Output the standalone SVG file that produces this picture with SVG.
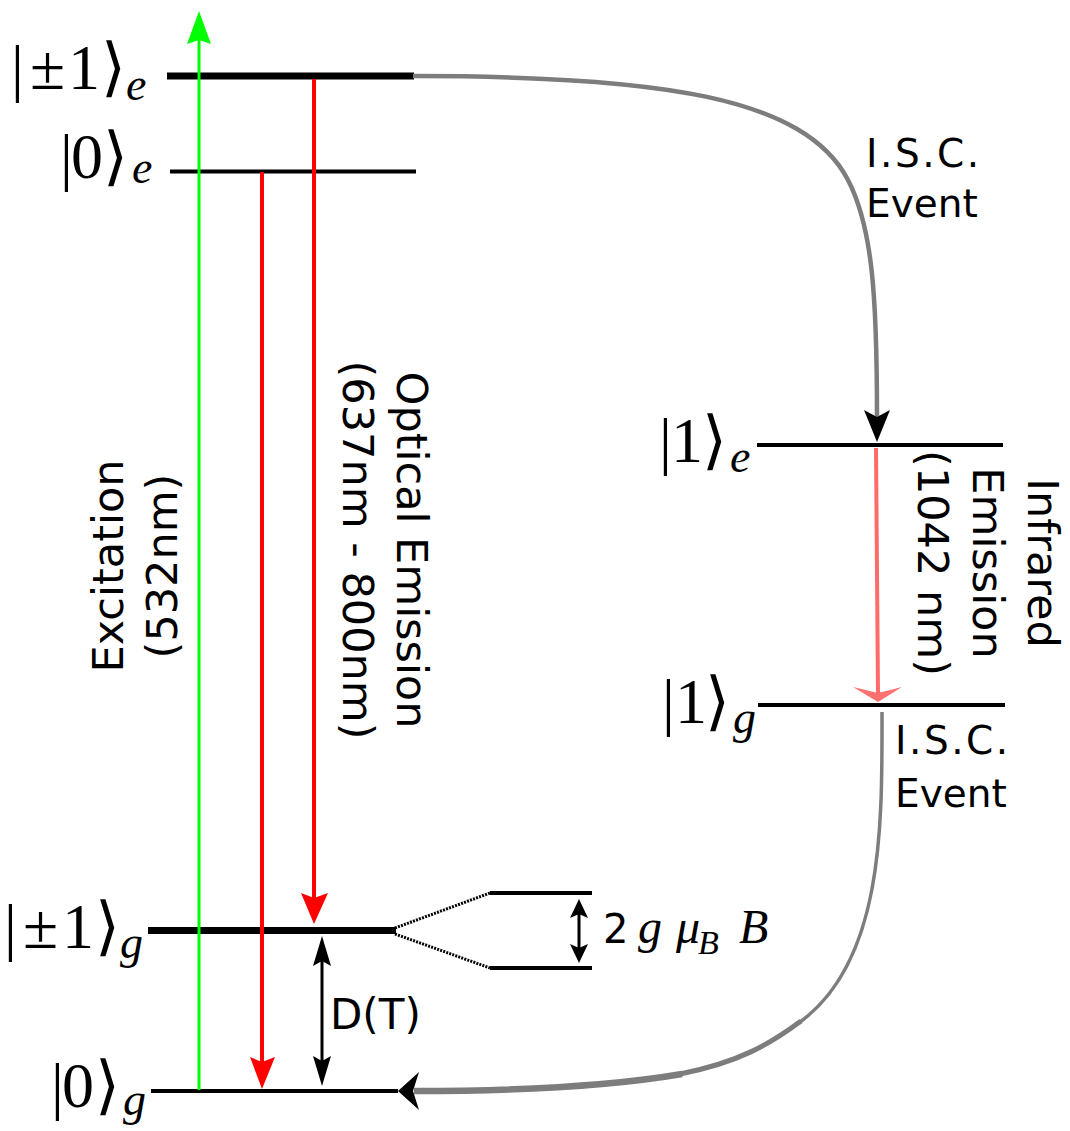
<svg xmlns="http://www.w3.org/2000/svg" width="1070" height="1131" viewBox="0 0 1070 1131">
<style>
.lvl{stroke:#000;stroke-width:4;fill:none}
.thick{stroke:#000;stroke-width:7;fill:none}
.ket{font-family:"Liberation Serif","DejaVu Sans",serif;font-size:64px;fill:#000}
.sub{font-family:"Liberation Serif","DejaVu Serif",serif;font-style:italic;font-size:46px;fill:#000}
.lbl{font-family:"DejaVu Sans","Liberation Sans",sans-serif;font-size:43px;fill:#000}
.isc{font-family:"DejaVu Sans","Liberation Sans",sans-serif;font-size:39px;fill:#000}
.red{stroke:#ff0000;stroke-width:4;fill:none}
.blk{stroke:#000;stroke-width:3;fill:none}
.gray{stroke:#7d7d7d;fill:none}
</style>
<rect width="1070" height="1131" fill="#fff"/>

<g id="level-pm1e">
<line class="thick" x1="167" y1="76" x2="414" y2="76"/>
<text class="ket" x="11 30 68 101" y="89">|±1⟩</text>
<text class="sub" x="126" y="100">e</text>
</g>
<g id="level-0e">
<line class="lvl" x1="170" y1="171.5" x2="416" y2="171.5"/>
<text class="ket" x="60 71 103" y="178">|0⟩</text>
<text class="sub" x="132" y="183">e</text>
</g>
<g id="level-1e">
<line class="lvl" x1="757" y1="445" x2="1003" y2="445"/>
<text class="ket" x="659 671 702" y="462">|1⟩</text>
<text class="sub" x="730" y="472">e</text>
</g>
<g id="level-1g">
<line class="lvl" x1="758" y1="705" x2="1005" y2="705"/>
<text class="ket" x="662 675 705" y="723">|1⟩</text>
<text class="sub" x="733" y="733">g</text>
</g>
<g id="level-pm1g">
<line class="thick" x1="148" y1="930.5" x2="396" y2="930.5"/>
<text class="ket" x="4 23 62 95" y="948">|±1⟩</text>
<text class="sub" x="120" y="958">g</text>
</g>
<g id="level-0g">
<line class="lvl" x1="151" y1="1091" x2="398" y2="1091"/>
<text class="ket" x="51 62 95" y="1107">|0⟩</text>
<text class="sub" x="123" y="1115">g</text>
</g>
<g id="zeeman-split">
<line class="lvl" x1="490" y1="893" x2="592" y2="893"/>
<line class="lvl" x1="490" y1="968" x2="592" y2="968"/>
<text x="603" y="943" font-family="DejaVu Sans, sans-serif" font-size="40">2</text>
<text class="sub" x="638" y="943" style="font-size:48px">g</text>
<text class="sub" x="676" y="943" style="font-size:48px">μ</text>
<text class="sub" x="698" y="954" style="font-size:34px">B</text>
<text class="sub" x="739" y="943" style="font-size:48px">B</text>
</g>

<g id="labels">
<text class="lbl" transform="translate(123,566) rotate(-90)" text-anchor="middle">Excitation<tspan x="0" dy="54">(532nm)</tspan></text>
<text class="lbl" transform="translate(397,550) rotate(90)" text-anchor="middle">Optical Emission<tspan x="0" dy="54">(637nm - 800nm)</tspan></text>
<text class="lbl" transform="translate(1028,563) rotate(90)" text-anchor="middle">Infrared<tspan x="0" dy="55">Emission</tspan><tspan x="0" dy="55">(1042 nm)</tspan></text>
<text class="isc" x="866" y="167" letter-spacing="2.5">I.S.C.</text>
<text class="isc" x="866" y="217">Event</text>
<text class="isc" x="895" y="754" letter-spacing="2.5">I.S.C.</text>
<text class="isc" x="895" y="807">Event</text>
<text class="isc" x="330" y="1029" style="font-size:42px">D(T)</text>
</g>

<g id="connectors">
<line x1="199" y1="1090" x2="199" y2="40" stroke="#00ff00" stroke-width="3"/>
<polygon points="187,44 199,40 211,44 199,11" fill="#00ff00"/>
<line class="red" x1="262" y1="172" x2="262" y2="1062"/>
<polygon points="250,1057 262,1062 275,1057 262,1089" fill="#ff0000"/>
<line class="red" x1="314" y1="79" x2="314" y2="898"/>
<polygon points="301,893 314,898 328,893 314,924" fill="#ff0000"/>
<line class="blk" x1="322" y1="945" x2="322" y2="1077"/>
<polygon points="322,936 331,966 322,961 313,966" fill="#000"/>
<polygon points="322,1086 331,1056 322,1061 313,1056" fill="#000"/>
<line class="blk" x1="579" y1="905" x2="579" y2="956"/>
<polygon points="579,899 588,918 579,914 570,918" fill="#000"/>
<polygon points="579,963 588,944 579,948 570,944" fill="#000"/>
<line x1="395" y1="928" x2="490" y2="893" stroke="#000" stroke-width="3" stroke-dasharray="2 1.2"/>
<line x1="395" y1="934" x2="490" y2="968" stroke="#000" stroke-width="3" stroke-dasharray="2 1.2"/>
<line x1="876" y1="448" x2="878" y2="693" stroke="#ff6b6b" stroke-width="4"/>
<polygon points="853,687 878,693 902,687 878,702" fill="#ff4d4d" fill-opacity="0.8"/>
<path class="gray" stroke-width="4.5" d="M413,76 C660,76 805,97 848,180 C873,228 877,300 877,418"/>
<polygon points="864,410 877,417 890,410 877,442" fill="#000"/>
<path class="gray" stroke-width="3.5" d="M882,712 C882,820 885,960 800,1022"/>
<path class="gray" stroke-width="5" d="M801,1021 C770,1044 740,1062 680,1074"/>
<path class="gray" stroke-width="6.5" d="M682,1074 C600,1088 500,1091 414,1091"/>
<polygon points="398,1091 419,1072 413,1091 419,1110" fill="#000"/>
</g>
</svg>
